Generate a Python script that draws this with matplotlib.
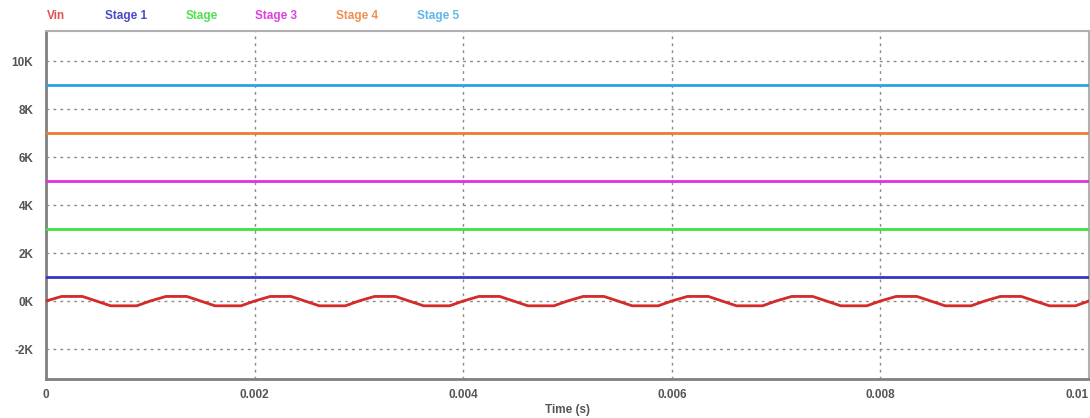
import matplotlib
matplotlib.use("Agg")
import matplotlib.pyplot as plt
import numpy as np

# ---- data ----
series_names = ["Vin", "Stage 1", "Stage", "Stage 3", "Stage 4", "Stage 5"]
line_colors = ["#d42a2a", "#3636c4", "#3ee23e", "#e02ee0", "#ee7c30", "#28a4e0"]
label_colors = ["#e05050", "#4a4ac8", "#50e050", "#e040e0", "#f09050", "#60b8e8"]
stage_levels = [1000, 3000, 5000, 7000, 9000]  # Stage 1 .. Stage 5 (V)

# Vin waveform vertices (time in ms, value in V)
vin_t_ms = [0.00, 0.15, 0.35, 0.62, 0.87,
            1.00, 1.15, 1.35, 1.62, 1.87,
            2.00, 2.15, 2.35, 2.62, 2.87,
            3.00, 3.15, 3.35, 3.62, 3.87,
            4.00, 4.15, 4.35, 4.62, 4.87,
            5.00, 5.15, 5.35, 5.62, 5.87,
            6.00, 6.15, 6.35, 6.62, 6.87,
            7.00, 7.15, 7.35, 7.62, 7.87,
            8.00, 8.15, 8.35, 8.62, 8.87,
            9.00, 9.15, 9.35, 9.62, 9.87,
            10.00]
vin_v = [0, 190, 190, -200, -200,
         0, 190, 190, -200, -200,
         0, 190, 190, -200, -200,
         0, 190, 190, -200, -200,
         0, 190, 190, -200, -200,
         0, 190, 190, -200, -200,
         0, 190, 190, -200, -200,
         0, 190, 190, -200, -200,
         0, 190, 190, -200, -200,
         0, 190, 190, -200, -200,
         0]

x_ticks = [0, 0.002, 0.004, 0.006, 0.008, 0.01]
x_tick_labels = ["0", "0.002", "0.004", "0.006", "0.008", "0.01"]
y_ticks = [-2000, 0, 2000, 4000, 6000, 8000, 10000]
y_tick_labels = ["-2K", "0K", "2K", "4K", "6K", "8K", "10K"]

plt.rcParams['font.family'] = ['Liberation Sans', 'DejaVu Sans']

fig = plt.figure(figsize=(10.9, 4.18), dpi=100)
ax = fig.add_axes([46/1090, 1 - 379/418, 1043/1090, 348/418])

t = np.array(vin_t_ms) / 1000.0
ax.plot(t, vin_v, color=line_colors[0], lw=2.0, zorder=3)
for lvl, c in zip(stage_levels, line_colors[1:]):
    ax.plot([0, 0.01], [lvl, lvl], color=c, lw=2.0, zorder=3)

ax.set_xlim(0, 0.01)
ax.set_ylim(-3250, 11250)
ax.set_xticks(x_ticks)
ax.set_xticklabels(x_tick_labels)
ax.set_yticks(y_ticks)
ax.set_yticklabels(y_tick_labels)
ax.tick_params(length=0, labelsize=8.5, labelcolor="#555555")
ax.tick_params(axis="y", pad=9)
ax.tick_params(axis="x", pad=7)
for lab in ax.get_xticklabels() + ax.get_yticklabels():
    lab.set_fontweight("bold")
ax.get_xticklabels()[-1].set_ha("right")
ax.grid(True, color="#8a8a8a", linestyle=(0, (2, 3)), lw=1.0)

for side in ["left", "bottom"]:
    ax.spines[side].set_color("#808080")
    ax.spines[side].set_linewidth(2.0)
for side in ["top", "right"]:
    ax.spines[side].set_color("#b0b0b0")
    ax.spines[side].set_linewidth(1.5)

ax.set_xlabel("Time (s)", fontsize=8.5, fontweight="bold", color="#555555", labelpad=2)

legend_x = [47, 105, 186, 255, 336, 417]
for name, c, xp in zip(series_names, label_colors, legend_x):
    fig.text(xp / 1090, 1 - 16 / 418, name, color=c, fontsize=8.5, fontweight="bold",
             ha="left", va="center")

fig.savefig("out.png", dpi=100)
